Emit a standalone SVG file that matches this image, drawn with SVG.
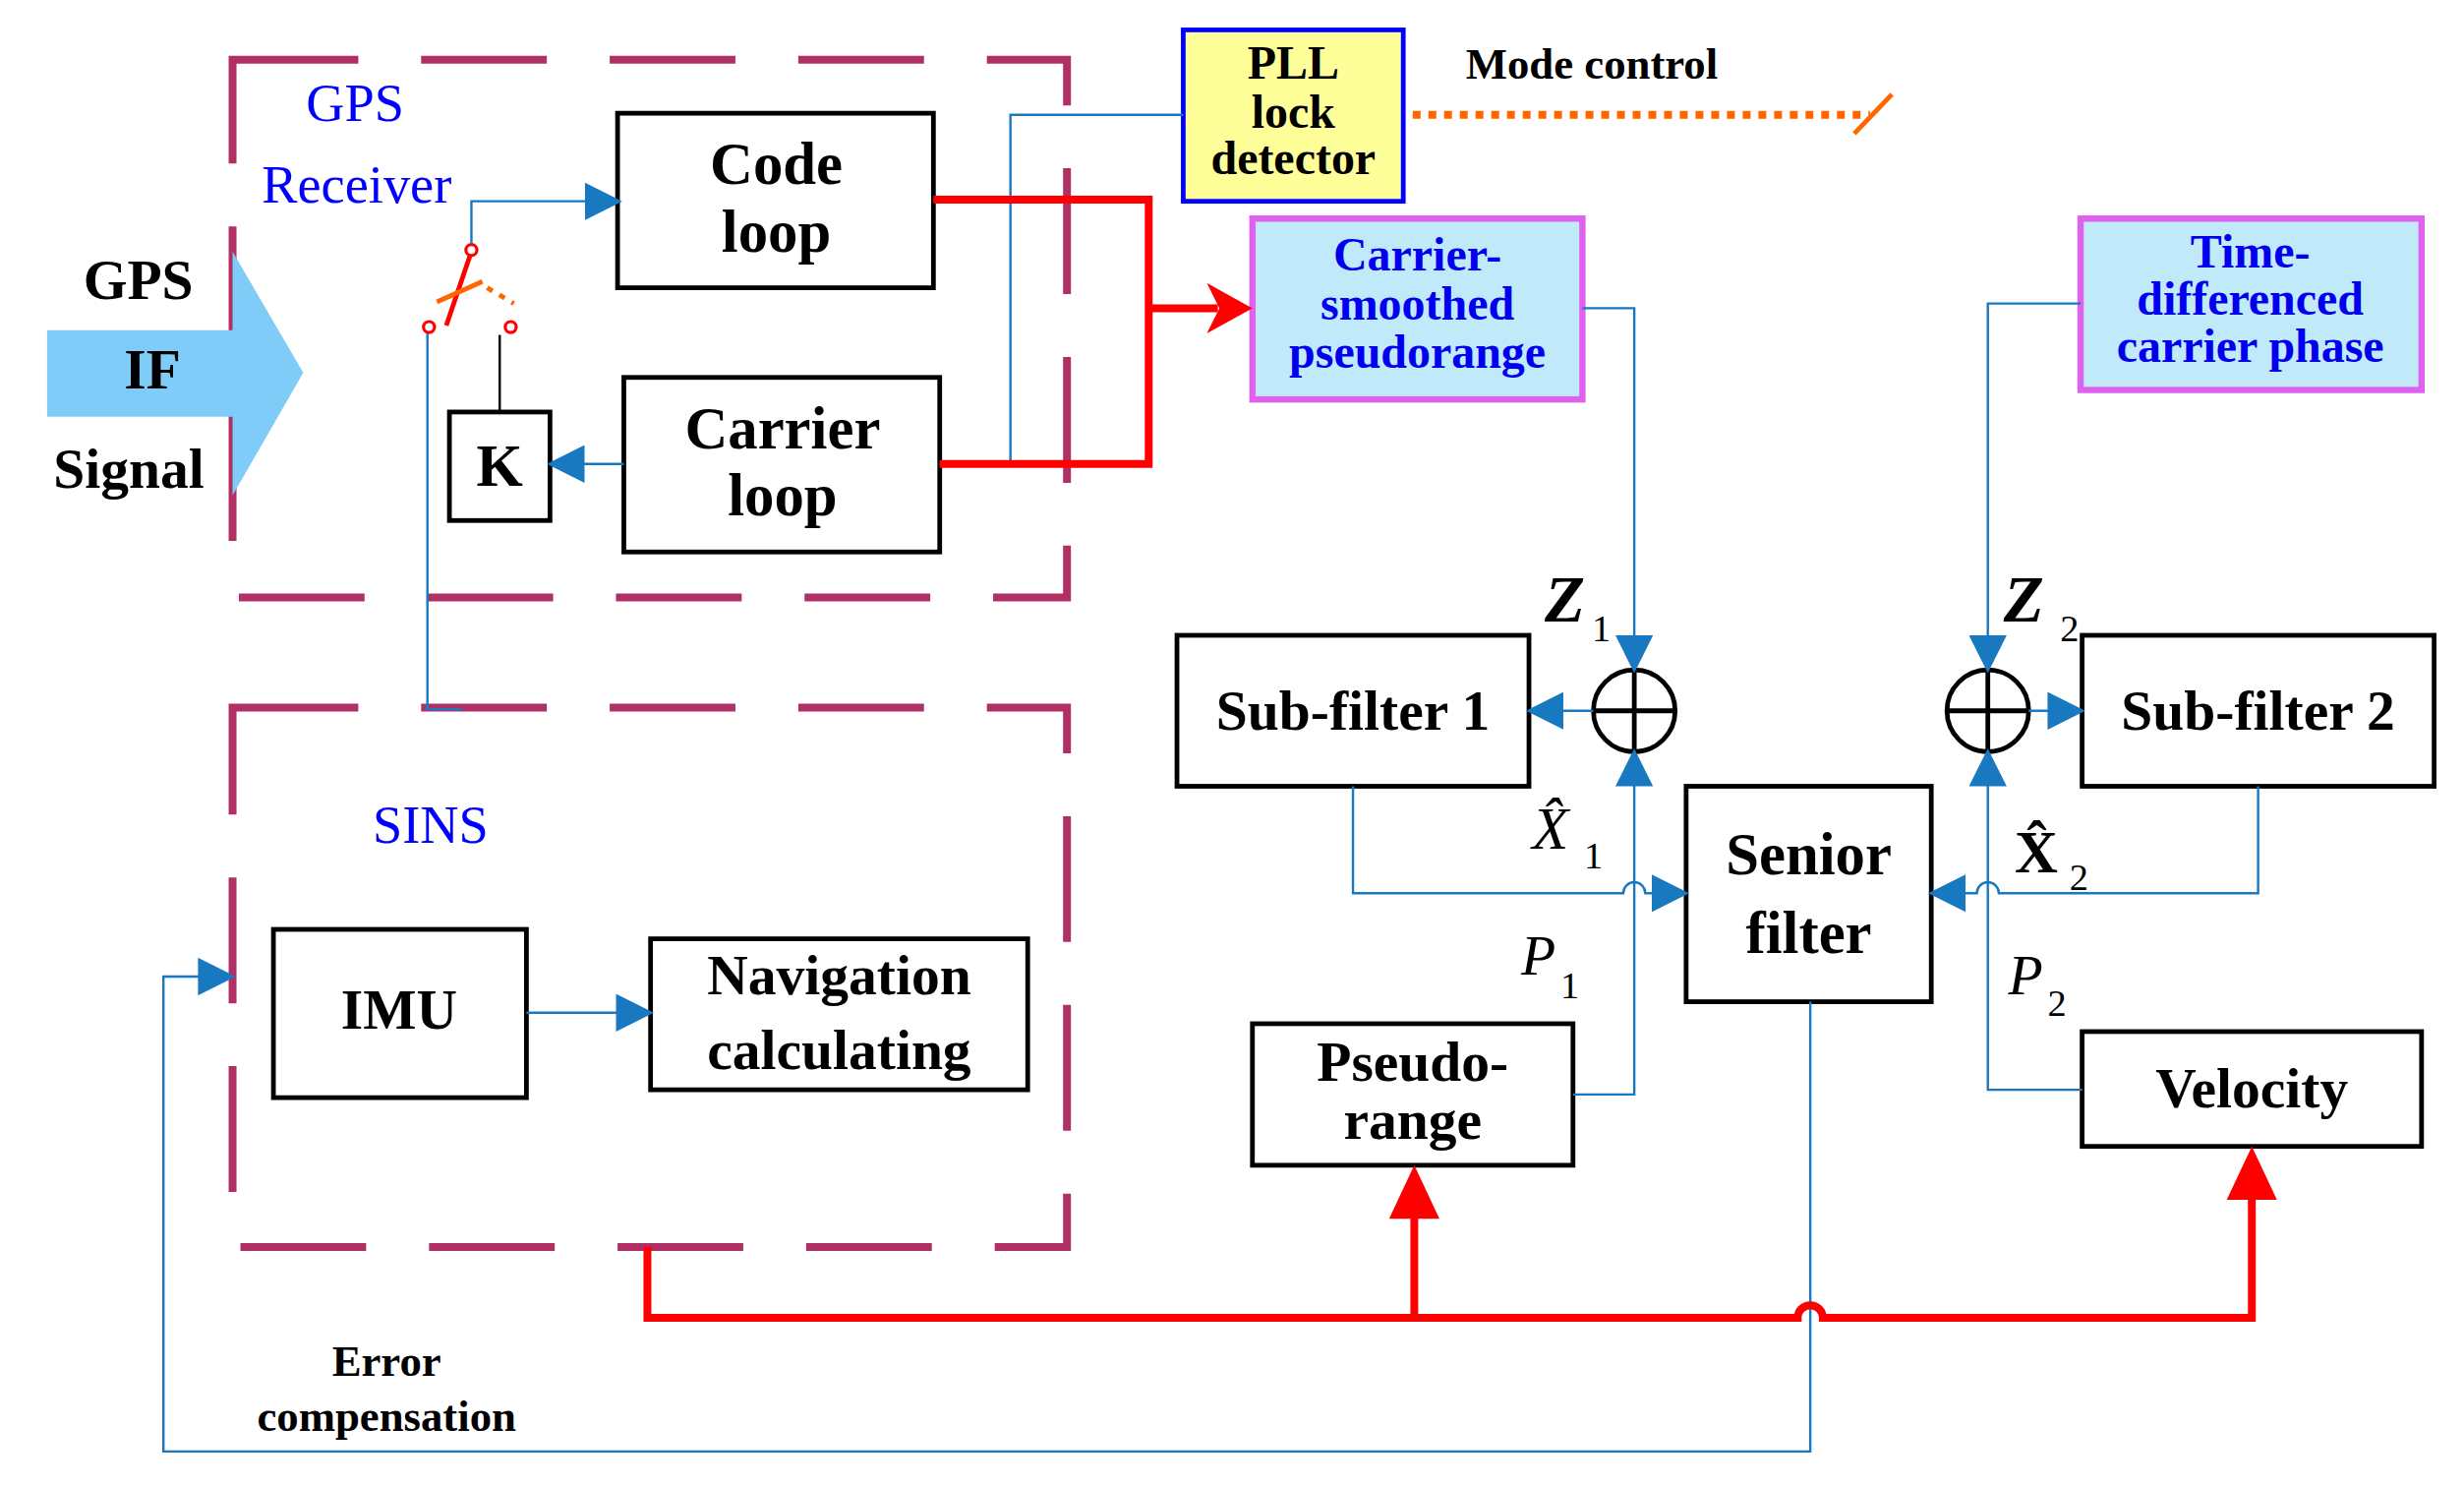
<svg xmlns="http://www.w3.org/2000/svg" width="2506" height="1511" viewBox="0 0 2506 1511">
<defs>
<style>
.t{font-family:"Liberation Serif",serif;font-weight:bold;fill:#000;text-anchor:middle}
.bl{font-family:"Liberation Serif",serif;fill:#0000FF;text-anchor:middle}
.bb{font-family:"Liberation Serif",serif;font-weight:bold;fill:#0000EE;text-anchor:middle;font-size:30px}
.box{fill:#fff;stroke:#000;stroke-width:3}
.dash{fill:none;stroke:#B03066;stroke-width:5;stroke-dasharray:80,40}
.bw{fill:none;stroke:#1878C0;stroke-width:1.5}
.rw{fill:none;stroke:#FF0000;stroke-width:5}
.it{font-family:"Liberation Serif",serif;font-style:italic;fill:#000}
.sb{font-family:"Liberation Serif",serif;fill:#000;font-size:24px}
</style>
<marker id="ab2" markerWidth="24" markerHeight="24" refX="22" refY="12" orient="auto" markerUnits="userSpaceOnUse" viewBox="0 0 24 24"><path d="M0,0L24,12L0,24z" fill="#1878C0"/></marker>
</defs>
<rect width="2506" height="1511" fill="#fff"/>
<g transform="scale(1.5982,1.599)">
<g id="receiver"><rect class="dash" x="148" y="38" width="531" height="342"/>
<text class="bl" x="226" y="77" font-size="34">GPS</text><text class="bl" x="227" y="129" font-size="34">Receiver</text></g>
<g id="sins"><rect class="dash" x="148" y="450" width="531" height="343"/>
<text class="bl" x="274" y="536" font-size="34">SINS</text></g>
<g id="ifsignal"><path d="M30,210H148V160L193,237L148,315V265H30z" fill="#80CCF8"/>
<text class="t" x="88" y="190" font-size="36">GPS</text><text class="t" x="97" y="247" font-size="36">IF</text><text class="t" x="82" y="310" font-size="36">Signal</text></g>
<g id="codeloop"><rect class="box" x="393" y="72" width="201" height="111"/><text class="t" x="494" y="117" font-size="38">Code</text><text class="t" x="494" y="160" font-size="38">loop</text></g>
<g id="carrierloop"><rect class="box" x="397" y="240" width="201" height="111"/><text class="t" x="498" y="285" font-size="38">Carrier</text><text class="t" x="498" y="328" font-size="38">loop</text></g>
<g id="k"><rect class="box" x="286" y="262" width="64" height="69"/><text class="t" x="318" y="309" font-size="38">K</text></g>
<g id="switch">
<line x1="300" y1="160" x2="284" y2="207" stroke="#FF0000" stroke-width="3"/>
<line x1="278" y1="192" x2="307" y2="179" stroke="#FF6600" stroke-width="3"/>
<line x1="310" y1="183" x2="327" y2="193" stroke="#FF6600" stroke-width="3" stroke-dasharray="4,5"/>
<circle cx="300" cy="159" r="3.5" fill="#fff" stroke="#FF0000" stroke-width="2"/>
<circle cx="273" cy="208" r="3.5" fill="#fff" stroke="#FF0000" stroke-width="2"/>
<circle cx="325" cy="208" r="3.5" fill="#fff" stroke="#FF0000" stroke-width="2"/>
<line x1="318" y1="213" x2="318" y2="262" stroke="#000" stroke-width="1.5"/></g>
<g id="pll"><rect x="753" y="19" width="140" height="109" fill="#FFFF99" stroke="#0000FF" stroke-width="3"/>
<text class="t" x="823" y="50" font-size="30">PLL</text><text class="t" x="823" y="81" font-size="30">lock</text><text class="t" x="823" y="111" font-size="30">detector</text></g>
<text class="t" x="1013" y="50" font-size="28">Mode control</text>
<g id="csp"><rect x="797" y="139" width="210" height="115" fill="#C0EAFA" stroke="#E060F0" stroke-width="4"/>
<text class="bb" x="902" y="172">Carrier-</text><text class="bb" x="902" y="203">smoothed</text><text class="bb" x="902" y="234">pseudorange</text></g>
<g id="tdcp"><rect x="1324" y="139" width="217" height="109" fill="#C0EAFA" stroke="#E060F0" stroke-width="4"/>
<text class="bb" x="1432" y="170">Time-</text><text class="bb" x="1432" y="200">differenced</text><text class="bb" x="1432" y="230">carrier phase</text></g>
<g id="sum1"><circle cx="1040" cy="452" r="26" fill="#fff" stroke="#000" stroke-width="3"/><path d="M1014,452H1066M1040,426V478" stroke="#000" stroke-width="3"/></g>
<g id="sum2"><circle cx="1265" cy="452" r="26" fill="#fff" stroke="#000" stroke-width="3"/><path d="M1239,452H1291M1265,426V478" stroke="#000" stroke-width="3"/></g>
<g id="sub1"><rect class="box" x="749" y="404" width="224" height="96"/><text class="t" x="861" y="464" font-size="36">Sub-filter 1</text></g>
<g id="sub2"><rect class="box" x="1325" y="404" width="224" height="96"/><text class="t" x="1437" y="464" font-size="36">Sub-filter 2</text></g>
<g id="senior"><rect class="box" x="1073" y="500" width="156" height="137"/><text class="t" x="1151" y="556" font-size="38">Senior</text><text class="t" x="1151" y="606" font-size="38">filter</text></g>
<g id="pseudo"><rect class="box" x="797" y="651" width="204" height="90"/><text class="t" x="899" y="687" font-size="36">Pseudo-</text><text class="t" x="899" y="724" font-size="36">range</text></g>
<g id="velocity"><rect class="box" x="1325" y="656" width="216" height="73"/><text class="t" x="1433" y="704" font-size="36">Velocity</text></g>
<g id="imu"><rect class="box" x="174" y="591" width="161" height="107"/><text class="t" x="254" y="654" font-size="36">IMU</text></g>
<g id="nav"><rect class="box" x="414" y="597" width="240" height="96"/><text class="t" x="534" y="632" font-size="36">Navigation</text><text class="t" x="534" y="680" font-size="36">calculating</text></g>
<g id="labels">
<text class="it" x="983" y="395" font-size="42" font-weight="bold">Z</text><text class="sb" x="1013" y="408">1</text>
<text class="it" x="1275" y="395" font-size="42" font-weight="bold">Z</text><text class="sb" x="1311" y="408">2</text>
<text class="it" x="975" y="540" font-size="38">X̂</text><text class="sb" x="1008" y="552">1</text>
<text x="1282" y="555" font-size="38" font-family="Liberation Serif,serif" font-weight="bold">X̂</text><text class="sb" x="1317" y="566">2</text>
<text class="it" x="968" y="620" font-size="36">P</text><text class="sb" x="993" y="635">1</text>
<text class="it" x="1278" y="632" font-size="36">P</text><text class="sb" x="1303" y="646">2</text>
<text class="t" x="246" y="875" font-size="28">Error</text><text class="t" x="246" y="910" font-size="28">compensation</text>
</g>
<g id="connectors">
<path class="bw" d="M300,155V128H394" marker-end="url(#ab2)"/>
<path class="bw" d="M272,212V451H294"/>
<path class="bw" d="M397,295H350" marker-end="url(#ab2)"/>
<path class="bw" d="M598,295H643V73H753"/>
<path class="rw" d="M594,127H731V295H598"/>
<path class="rw" d="M731,196H775"/>
<path d="M768,180L797,196L768,212L776,196z" fill="#FF0000"/>
<path d="M899,73H1190" fill="none" stroke="#FF6600" stroke-width="5" stroke-dasharray="5,5"/>
<line x1="1180" y1="85" x2="1204" y2="60" stroke="#FF6600" stroke-width="3"/>
<path class="bw" d="M1007,196H1040V426" marker-end="url(#ab2)"/>
<path class="bw" d="M1324,193H1265V426" marker-end="url(#ab2)"/>
<path class="bw" d="M1014,452H973" marker-end="url(#ab2)"/>
<path class="bw" d="M1291,452H1325" marker-end="url(#ab2)"/>
<path class="bw" d="M861,500V568H1033A7,7 0 0 1 1047,568H1073" marker-end="url(#ab2)"/>
<path class="bw" d="M1437,500V568H1272A7,7 0 0 0 1258,568H1229" marker-end="url(#ab2)"/>
<path class="bw" d="M1001,696H1040V478" marker-end="url(#ab2)"/>
<path class="bw" d="M1325,693H1265V478" marker-end="url(#ab2)"/>
<path class="bw" d="M335,644H414" marker-end="url(#ab2)"/>
<path class="bw" d="M1152,637V923H104V621H148" marker-end="url(#ab2)"/>
<path class="rw" d="M412,793V838H1144A8,8 0 0 1 1160,838H1433V760"/>
<path class="rw" d="M900,838V770"/>
<path d="M884,775L900,741L916,775z" fill="#FF0000"/>
<path d="M1417,763L1433,729L1449,763z" fill="#FF0000"/>
</g>
</g>
</svg>
